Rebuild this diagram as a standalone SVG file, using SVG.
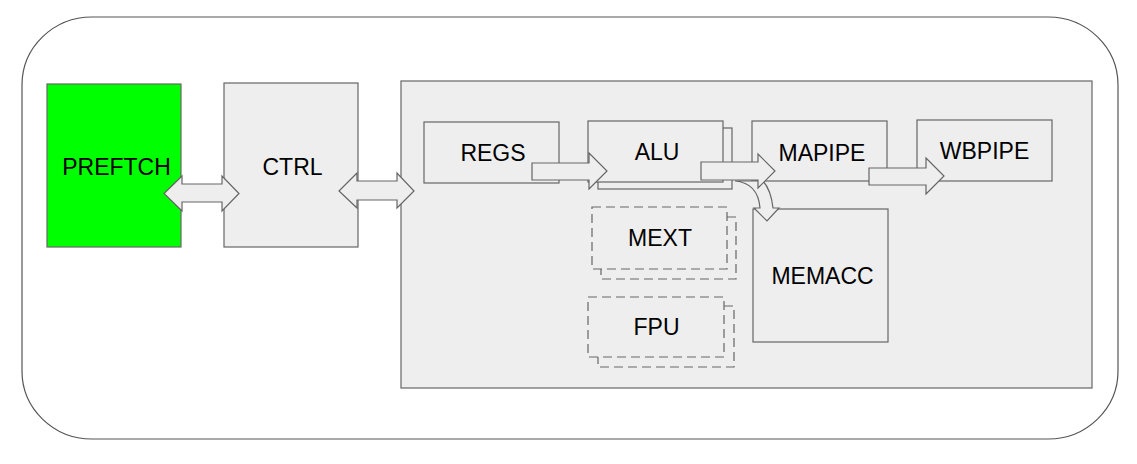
<svg xmlns="http://www.w3.org/2000/svg" width="1137" height="464" viewBox="0 0 1137 464">
<style>
.box{fill:#eeeeee;stroke:#666666;stroke-width:1.2}
.dash{fill:#eeeeee;stroke:#666666;stroke-width:1.2;stroke-dasharray:9,5}
.arr{fill:#eeeeee;stroke:#666666;stroke-width:1.2;stroke-linejoin:miter}
.lbl{font-family:"Liberation Sans",Arial,sans-serif;font-size:23px;fill:#000000;text-anchor:middle}
</style>
<rect width="1137" height="464" fill="#ffffff"/>
<g id="frame">
<rect x="22" y="17" width="1096" height="422" rx="70" ry="68" fill="#ffffff" stroke="#555555" stroke-width="1.2"/>
</g>
<g id="preftch">
<rect x="47" y="84" width="134" height="163" fill="#00ff00" stroke="#666666" stroke-width="1.2"/>
<text class="lbl" x="116.5" y="175">PREFTCH</text>
</g>
<g id="ctrl">
<rect class="box" x="224" y="83" width="134" height="164"/>
<text class="lbl" x="292.5" y="175">CTRL</text>
</g>
<g id="core">
<rect class="box" x="401" y="81" width="691" height="307"/>
</g>
<g id="regs">
<rect class="box" x="424" y="122" width="135" height="61"/>
<text class="lbl" x="493" y="161">REGS</text>
</g>
<g id="alu">
<rect class="box" x="598" y="128" width="134" height="61"/>
<rect class="box" x="588" y="121" width="135" height="61"/>
<text class="lbl" x="657" y="160">ALU</text>
</g>
<g id="mapipe">
<rect class="box" x="752" y="121" width="135" height="60"/>
<text class="lbl" x="822" y="161">MAPIPE</text>
</g>
<g id="wbpipe">
<rect class="box" x="917" y="120" width="135" height="61"/>
<text class="lbl" x="984.5" y="159">WBPIPE</text>
</g>
<g id="mext">
<rect class="dash" x="601" y="217" width="135" height="62"/>
<rect class="dash" x="592" y="207" width="135" height="62"/>
<text class="lbl" x="660" y="246">MEXT</text>
</g>
<g id="fpu">
<rect class="dash" x="598" y="306" width="136" height="61"/>
<rect class="dash" x="588" y="297" width="136" height="60"/>
<text class="lbl" x="656.5" y="335">FPU</text>
</g>
<g id="memacc">
<rect class="box" x="753" y="209" width="135" height="133"/>
<text class="lbl" x="822.5" y="284">MEMACC</text>
</g>
<g id="connectors">
<path class="arr" d="M164,193.5 L182,176 L182,184 L222,184 L222,176 L239,193.5 L222,211 L222,202 L182,202 L182,211 Z"/>
<path class="arr" d="M339,191 L357,173 L357,181 L397,181 L397,173 L414,191 L397,208 L397,200 L357,200 L357,208 Z"/>
<path class="arr" d="M532,163 L589,163 L589,153 L607,171 L589,189 L589,180 L532,180 Z"/>
<path class="arr" d="M735,181 Q758,183 760,208 L754,208 L767,221 L779,208 L773,208 Q771,190 763,181 Z"/>
<path class="arr" d="M701,162 L758,162 L758,154 L775,171 L758,188 L758,180 L701,180 Z"/>
<path class="arr" d="M869,168 L926,168 L926,158 L944,176 L926,194 L926,185 L869,185 Z"/>
</g>
</svg>
